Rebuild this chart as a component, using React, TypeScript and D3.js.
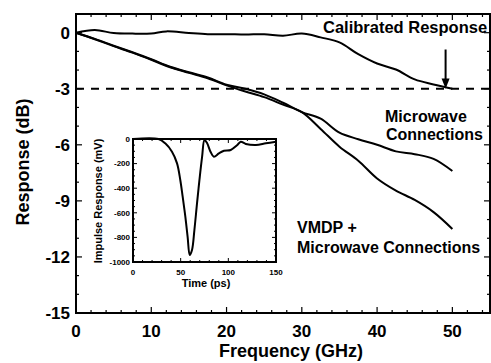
import * as d3 from "d3";
import { useEffect, useRef } from "react";

// main chart: frequency (GHz) vs response (dB)
const calFreq = [0, 2.5, 5, 7.5, 10, 12, 15, 17.5, 20, 22.5, 25, 27.5, 30, 32.5, 35, 37.5, 40, 42.5, 45, 47.5, 50];
const calResp = [0, 0.14, -0.02, -0.05, -0.04, 0.07, -0.02, -0.08, -0.08, -0.1, -0.08, -0.16, -0.05, -0.25, -0.52, -1.15, -1.65, -1.97, -2.5, -2.77, -3.0];

const mwFreq = [0, 2.5, 5, 7.5, 10, 12.5, 15, 17.5, 20, 22.5, 25, 27.5, 30, 32.5, 35, 37.5, 40, 42.5, 45, 47.5, 50];
const mwResp = [0, -0.33, -0.7, -1.05, -1.42, -1.82, -2.12, -2.4, -2.78, -3.0, -3.3, -3.75, -4.25, -4.6, -5.35, -5.7, -6.0, -6.35, -6.5, -6.75, -7.4];

const vmdpFreq = [0, 2.5, 5, 7.5, 10, 12.5, 15, 17.5, 20, 22.5, 25, 27.5, 30, 32.5, 35, 37.5, 40, 42.5, 45, 47.5, 50];
const vmdpResp = [0, -0.35, -0.72, -1.07, -1.45, -1.85, -2.15, -2.44, -2.82, -3.15, -3.45, -3.85, -4.25, -5.15, -6.1, -6.85, -7.8, -8.45, -8.95, -9.6, -10.5];

const xTicks = [0, 10, 20, 30, 40, 50];
const yTicks = [0, -3, -6, -9, -12, -15];

// inset: impulse response
const impTime = [0, 26.7, 33.8, 40.9, 46.2, 49.6, 52.1, 54.9, 57.3, 59.5, 61.9, 64.4, 67.2, 69.7, 72.5, 75, 77.8, 81.3, 84.8, 90.1, 95.4, 102.5, 109.5, 113, 118.3, 128.9, 139.4, 150];
const impVolt = [0, 0, -35, -103, -198, -333, -469, -632, -795, -943, -902, -740, -520, -333, -144, -8, -35, -103, -144, -117, -95, -89, -49, -22, -40, -49, -35, -22];

const insetXTicks = [0, 50, 100, 150];
const insetYTicks = [0, -200, -400, -600, -800, -1000];

const FONT = "'Liberation Sans', Arial, Helvetica, sans-serif";

const App = () => {
  const ref = useRef<SVGSVGElement | null>(null);

  useEffect(() => {
    const svg = d3.select(ref.current);
    svg.selectAll("*").remove();

    const width = 491;
    const height = 363;
    const margin = { top: 14, right: 1, bottom: 50, left: 76 };

    svg.append("rect").attr("width", width).attr("height", height).attr("fill", "#fff");

    const x = d3.scaleLinear().domain([0, 55]).range([margin.left, width - margin.right]);
    const y = d3.scaleLinear().domain([-15, 1]).range([height - margin.bottom, margin.top]);

    const x0 = x.range()[0], x1 = x.range()[1];
    const y0 = y.range()[0], y1 = y.range()[1];

    // ticks (inward) on all four sides
    const ticks = svg.append("g").attr("stroke", "#000").attr("stroke-width", 1.2);
    d3.range(0, 55.01, 2).forEach((v) => {
      const len = v % 10 === 0 ? 6 : 3;
      ticks.append("line").attr("x1", x(v)).attr("x2", x(v)).attr("y1", y0).attr("y2", y0 - len);
      ticks.append("line").attr("x1", x(v)).attr("x2", x(v)).attr("y1", y1).attr("y2", y1 + len);
    });
    d3.range(-15, 1.01, 1).forEach((v) => {
      const len = v % 3 === 0 ? 6 : 3;
      ticks.append("line").attr("x1", x0).attr("x2", x0 + len).attr("y1", y(v)).attr("y2", y(v));
      ticks.append("line").attr("x1", x1).attr("x2", x1 - len).attr("y1", y(v)).attr("y2", y(v));
    });

    svg
      .append("rect")
      .attr("x", x0)
      .attr("y", y1)
      .attr("width", x1 - x0)
      .attr("height", y0 - y1)
      .attr("fill", "none")
      .attr("stroke", "#000")
      .attr("stroke-width", 2);

    // tick labels
    svg
      .selectAll(".xlab")
      .data(xTicks)
      .enter()
      .append("text")
      .attr("x", (d) => x(d))
      .attr("y", 337)
      .attr("text-anchor", "middle")
      .attr("font-family", FONT)
      .attr("font-weight", "bold")
      .attr("font-size", 17)
      .text((d) => d);

    svg
      .selectAll(".ylab")
      .data(yTicks)
      .enter()
      .append("text")
      .attr("x", x0 - 6)
      .attr("y", (d) => y(d))
      .attr("dy", "0.36em")
      .attr("text-anchor", "end")
      .attr("font-family", FONT)
      .attr("font-weight", "bold")
      .attr("font-size", 17)
      .text((d) => (d < 0 ? "-" + Math.abs(d) : d));

    svg
      .append("text")
      .attr("x", 291)
      .attr("y", 357)
      .attr("text-anchor", "middle")
      .attr("font-family", FONT)
      .attr("font-weight", "bold")
      .attr("font-size", 18)
      .text("Frequency (GHz)");

    svg
      .append("text")
      .attr("transform", "translate(29,162) rotate(-90)")
      .attr("text-anchor", "middle")
      .attr("font-family", FONT)
      .attr("font-weight", "bold")
      .attr("font-size", 18)
      .text("Response (dB)");

    // -3 dB reference
    svg
      .append("line")
      .attr("x1", x0)
      .attr("x2", x1)
      .attr("y1", y(-3))
      .attr("y2", y(-3))
      .attr("stroke", "#000")
      .attr("stroke-width", 1.8)
      .attr("stroke-dasharray", "8,7");

    const line = d3
      .line<[number, number]>()
      .x((d) => x(d[0]))
      .y((d) => y(d[1]))
      .curve(d3.curveCatmullRom.alpha(0.5));

    const series: [number[], number[]][] = [
      [calFreq, calResp],
      [mwFreq, mwResp],
      [vmdpFreq, vmdpResp],
    ];
    series.forEach(([f, r]) => {
      svg
        .append("path")
        .datum(f.map((v, i) => [v, r[i]] as [number, number]))
        .attr("d", line)
        .attr("fill", "none")
        .attr("stroke", "#000")
        .attr("stroke-width", 2);
    });

    // arrow to the -3 dB point
    const ax = x(49.1);
    svg
      .append("line")
      .attr("x1", ax)
      .attr("x2", ax)
      .attr("y1", y(-0.9))
      .attr("y2", y(-2.5))
      .attr("stroke", "#000")
      .attr("stroke-width", 2);
    svg
      .append("path")
      .attr("d", `M${ax - 4},${y(-2.45)}L${ax + 4},${y(-2.45)}L${ax},${y(-3)}Z`)
      .attr("fill", "#000");

    const label = (tx: number, ty: number, s: string, size = 16) =>
      svg
        .append("text")
        .attr("x", tx)
        .attr("y", ty)
        .attr("font-family", FONT)
        .attr("font-weight", "bold")
        .attr("font-size", size)
        .text(s);

    label(323, 33, "Calibrated Response", 16.5);
    label(385, 122, "Microwave");
    label(386, 140, "Connections");
    label(297, 233, "VMDP +");
    label(297, 253, "Microwave Connections");

    // inset
    const ix = d3.scaleLinear().domain([0, 150]).range([133, 276]);
    const iy = d3.scaleLinear().domain([-1000, 0]).range([262, 139]);

    svg
      .append("rect")
      .attr("x", 133)
      .attr("y", 139)
      .attr("width", 143)
      .attr("height", 123)
      .attr("fill", "#fff");

    const iticks = svg.append("g").attr("stroke", "#000").attr("stroke-width", 1);
    d3.range(0, 150.01, 10).forEach((v) => {
      const len = v % 50 === 0 ? 4 : 2;
      iticks.append("line").attr("x1", ix(v)).attr("x2", ix(v)).attr("y1", 262).attr("y2", 262 - len);
      iticks.append("line").attr("x1", ix(v)).attr("x2", ix(v)).attr("y1", 139).attr("y2", 139 + len);
    });
    d3.range(-1000, 0.01, 50).forEach((v) => {
      const len = v % 200 === 0 ? 4 : 2;
      iticks.append("line").attr("x1", 133).attr("x2", 133 + len).attr("y1", iy(v)).attr("y2", iy(v));
      iticks.append("line").attr("x1", 276).attr("x2", 276 - len).attr("y1", iy(v)).attr("y2", iy(v));
    });

    svg
      .append("path")
      .datum(impTime.map((v, i) => [v, impVolt[i]] as [number, number]))
      .attr(
        "d",
        d3
          .line<[number, number]>()
          .x((d) => ix(d[0]))
          .y((d) => iy(d[1]))
          .curve(d3.curveCatmullRom.alpha(0.5))
      )
      .attr("fill", "none")
      .attr("stroke", "#000")
      .attr("stroke-width", 2);

    svg
      .append("rect")
      .attr("x", 133)
      .attr("y", 139)
      .attr("width", 143)
      .attr("height", 123)
      .attr("fill", "none")
      .attr("stroke", "#000")
      .attr("stroke-width", 2);

    svg
      .selectAll(".ixlab")
      .data(insetXTicks)
      .enter()
      .append("text")
      .attr("x", (d) => ix(d))
      .attr("y", 275)
      .attr("text-anchor", "middle")
      .attr("font-family", FONT)
      .attr("font-weight", "bold")
      .attr("font-size", 8)
      .text((d) => d);

    svg
      .selectAll(".iylab")
      .data(insetYTicks)
      .enter()
      .append("text")
      .attr("x", 130)
      .attr("y", (d) => iy(d))
      .attr("dy", "0.36em")
      .attr("text-anchor", "end")
      .attr("font-family", FONT)
      .attr("font-weight", "bold")
      .attr("font-size", 8)
      .text((d) => d);

    svg
      .append("text")
      .attr("x", 206)
      .attr("y", 287)
      .attr("text-anchor", "middle")
      .attr("font-family", FONT)
      .attr("font-weight", "bold")
      .attr("font-size", 11)
      .text("Time (ps)");

    svg
      .append("text")
      .attr("transform", "translate(102,201) rotate(-90)")
      .attr("text-anchor", "middle")
      .attr("font-family", FONT)
      .attr("font-weight", "bold")
      .attr("font-size", 11)
      .text("Impulse Response (mV)");
  }, []);

  return (
    <svg
      ref={ref}
      width={491}
      height={363}
      style={{ position: "absolute", left: 0, top: 0, display: "block" }}
    />
  );
};

export default App;
